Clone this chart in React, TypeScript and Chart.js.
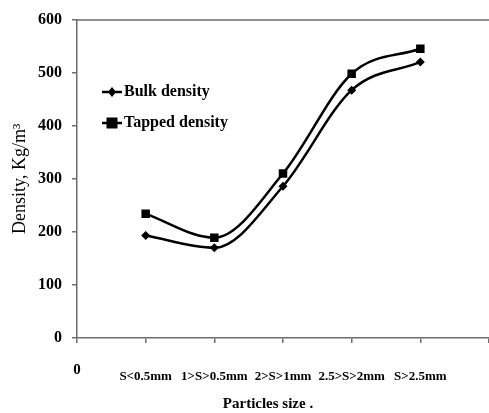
import React, { useEffect, useRef } from "react";
import { Chart, registerables } from "chart.js";

Chart.register(...registerables);

const categories = ["S<0.5mm", "1>S>0.5mm", "2>S>1mm", "2.5>S>2mm", "S>2.5mm"];
const bulkDensity = [193, 170, 286, 467, 520];
const tappedDensity = [234, 189, 310, 498, 545];
const yTicks = [0, 100, 200, 300, 400, 500, 600];
const seriesNames = ["Bulk density", "Tapped density"];
const yTitle = "Density, Kg/m³";
const xTitle = "Particles size .";

const SERIF = "'Liberation Serif', 'Times New Roman', serif";
const CANVAS_W = 495;

const extrasPlugin = {
  id: "extras",
  afterDraw(chart: any) {
    const ctx = chart.ctx;
    const area = chart.chartArea;
    ctx.save();
    // top border of plot area
    ctx.strokeStyle = "#6e6e6e";
    ctx.lineWidth = 1.5;
    ctx.beginPath();
    ctx.moveTo(area.left, area.top + 0.5);
    ctx.lineTo(area.right + 6, area.top + 0.5);
    ctx.stroke();

    // legend inside plot
    const rows = [
      { y: 92, style: "rectRot", r: 4 },
      { y: 123, style: "rect", r: 5.5 },
    ];
    chart.data.datasets.forEach((ds: any, i: number) => {
      const row = rows[i];
      ctx.strokeStyle = "#000";
      ctx.lineWidth = 2.5;
      ctx.beginPath();
      ctx.moveTo(102, row.y);
      ctx.lineTo(122, row.y);
      ctx.stroke();
      ctx.fillStyle = "#000";
      if (row.style === "rect") {
        ctx.fillRect(112 - row.r, row.y - row.r, row.r * 2, row.r * 2);
      } else {
        ctx.beginPath();
        ctx.moveTo(112, row.y - row.r - 1);
        ctx.lineTo(112 + row.r, row.y);
        ctx.lineTo(112, row.y + row.r + 1);
        ctx.lineTo(112 - row.r, row.y);
        ctx.closePath();
        ctx.fill();
      }
      ctx.font = `bold 16px ${SERIF}`;
      ctx.textBaseline = "middle";
      ctx.textAlign = "left";
      ctx.fillText(ds.label, 124, row.y);
    });

    // x title
    ctx.font = `bold 15px ${SERIF}`;
    ctx.textAlign = "center";
    ctx.textBaseline = "middle";
    ctx.fillStyle = "#000";
    ctx.fillText(xTitle, 268, 404);
    ctx.restore();
  },
};

export default function App() {
  const ref = useRef<HTMLCanvasElement>(null);

  useEffect(() => {
    if (!ref.current) return;
    const xLabels = ["0", ...categories, ""];
    const chart = new Chart(ref.current, {
      type: "line",
      data: {
        datasets: [
          {
            label: seriesNames[0],
            data: bulkDensity.map((y, i) => ({ x: i + 1, y })),
            borderColor: "#000",
            backgroundColor: "#000",
            borderWidth: 2.5,
            pointStyle: "rectRot",
            pointRadius: 4.5,
            pointBorderWidth: 0,
            cubicInterpolationMode: "monotone",
          },
          {
            label: seriesNames[1],
            data: tappedDensity.map((y, i) => ({ x: i + 1, y })),
            borderColor: "#000",
            backgroundColor: "#000",
            borderWidth: 2.5,
            pointStyle: "rect",
            pointRadius: 6,
            pointBorderWidth: 0,
            cubicInterpolationMode: "monotone",
          },
        ],
      },
      options: {
        animation: false,
        responsive: false,
        maintainAspectRatio: false,
        layout: { padding: { top: 18, right: 0, left: 0, bottom: 0 } },
        plugins: { legend: { display: false }, tooltip: { enabled: false } },
        scales: {
          x: {
            type: "linear",
            min: 0,
            max: 6,
            afterFit: (s: any) => {
              s.height = 75;
              s.paddingLeft = 0;
              s.paddingRight = 0;
            },
            afterBuildTicks: (s: any) => {
              s.ticks = xLabels.map((_, i) => ({ value: i }));
            },
            grid: {
              display: true,
              drawOnChartArea: false,
              drawTicks: true,
              tickLength: 5,
              color: "#6e6e6e",
              lineWidth: 1.5,
            },
            border: { display: true, color: "#6e6e6e", width: 1.5 },
            ticks: {
              autoSkip: false,
              maxRotation: 0,
              padding: 18,
              color: "#000",
              callback: (v: any) => xLabels[Math.round(v)] ?? "",
              font: (c: any) =>
                c.tick && c.tick.value === 0
                  ? { family: SERIF, size: 15, weight: "bold", lineHeight: 1.2 }
                  : { family: SERIF, size: 13, weight: "bold", lineHeight: 2.4 },
            },
          },
          y: {
            min: 0,
            max: 600,
            afterFit: (s: any) => {
              s.width = 77;
            },
            afterBuildTicks: (s: any) => {
              s.ticks = yTicks.map((v) => ({ value: v }));
            },
            grid: {
              display: true,
              drawOnChartArea: false,
              drawTicks: true,
              tickLength: 5,
              color: "#6e6e6e",
              lineWidth: 1.5,
            },
            border: { display: true, color: "#6e6e6e", width: 1.5 },
            title: {
              display: true,
              text: yTitle,
              color: "#000",
              font: { family: SERIF, size: 18 },
              padding: { top: 9, bottom: 0 },
            },
            ticks: {
              padding: 10,
              color: "#000",
              font: { family: SERIF, size: 16, weight: "bold" },
            },
          },
        },
      },
      plugins: [extrasPlugin],
    });
    return () => chart.destroy();
  }, []);

  return (
    <div
      style={{
        position: "fixed",
        left: 0,
        top: 0,
        width: 489,
        height: 413,
        overflow: "hidden",
        background: "#fff",
      }}
    >
      <canvas ref={ref} width={CANVAS_W} height={413} style={{ width: CANVAS_W, height: 413, display: "block" }} />
    </div>
  );
}
